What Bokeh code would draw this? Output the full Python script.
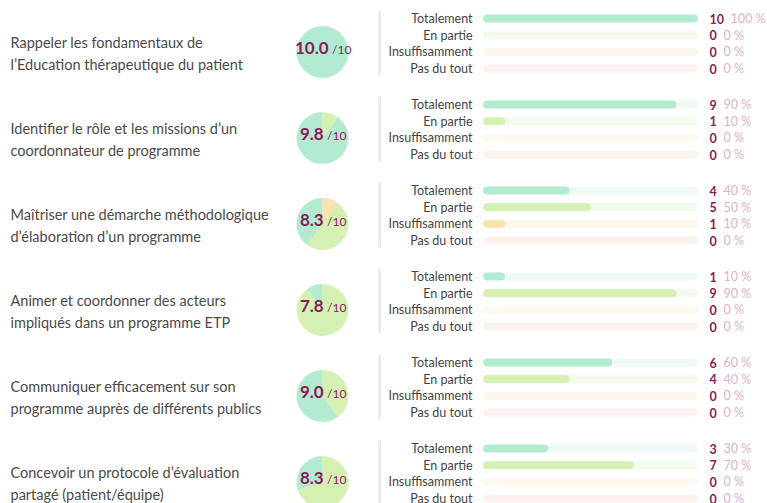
import math
from bokeh.plotting import figure
from bokeh.models import Range1d, ColumnDataSource
from bokeh.core.properties import value
from bokeh.embed import file_html
from bokeh.resources import INLINE

# ---------------- data ----------------
topics = [
    ["Rappeler les fondamentaux de", "l\u2019Education th\u00e9rapeutique du patient"],
    ["Identifier le r\u00f4le et les missions d\u2019un", "coordonnateur de programme"],
    ["Ma\u00eetriser une d\u00e9marche m\u00e9thodologique", "d\u2019\u00e9laboration d\u2019un programme"],
    ["Animer et coordonner des acteurs", "impliqu\u00e9s dans un programme ETP"],
    ["Communiquer efficacement sur son", "programme aupr\u00e8s de diff\u00e9rents publics"],
    ["Concevoir un protocole d\u2019\u00e9valuation", "partag\u00e9 (patient/\u00e9quipe)"],
]
levels = ["Totalement", "En partie", "Insuffisamment", "Pas du tout"]
totalement = [10, 9, 4, 1, 6, 3]
en_partie = [0, 1, 5, 9, 4, 7]
insuffisamment = [0, 0, 1, 0, 0, 0]
pas_du_tout = [0, 0, 0, 0, 0, 0]
scores = [10.0, 9.8, 8.3, 7.8, 9.0, 8.3]
score_max = 10

# ---------------- style ----------------
bar_colors = ["#b3ebd1", "#d4f1b3", "#f8e3ae", "#fbe3d8"]
track_colors = ["#effaf5", "#f3fbed", "#fdf8ee", "#fdf3ee"]
purple = "#8a1c5c"
pink = "#dcb2cc"
label_col = "#4a4a4a"
FONT = value("Lato")

W, H = 767, 503
p = figure(width=W, height=H, output_backend="svg", toolbar_location=None,
           x_range=Range1d(0, W), y_range=Range1d(-H, 0),
           min_border=0, outline_line_color=None)
p.axis.visible = False
p.grid.visible = False
p.background_fill_color = "white"
p.border_fill_color = "white"

ROW0, ROWSTEP = 43, 86
BAR_X0, BAR_LEN = 483, 214
PIE_X, PIE_R = 322, 26
SEP_X = 379

counts_by_level = [totalement, en_partie, insuffisamment, pas_du_tout]

lab = dict(x=[], y=[], t=[])
blab = dict(x=[], y=[], t=[])
track = dict(l=[], r=[], y=[], c=[])
bars = dict(l=[], r=[], y=[], c=[])
cnt = dict(x=[], y=[], t=[])
pct = dict(x=[], y=[], t=[])
wed = dict(x=[], y=[], s=[], e=[], c=[])
sc_main = dict(x=[], y=[], t=[])
sc_small = dict(x=[], y=[], t=[])
sep = dict(x0=[], y0=[], x1=[], y1=[])

def wmain(s):
    return sum(4.4 if ch == "." else 9.9 for ch in s)

for i in range(len(topics)):
    yc = ROW0 + ROWSTEP * i
    lab["x"] += [10, 10]
    lab["y"] += [-(yc - 1.5), -(yc + 20.5)]
    lab["t"] += topics[i]
    sep["x0"].append(SEP_X); sep["x1"].append(SEP_X)
    sep["y0"].append(-(yc - 33)); sep["y1"].append(-(yc + 32))
    vals = [lv[i] for lv in counts_by_level]
    total = sum(vals)
    for k, lvl in enumerate(levels):
        by = yc - 25 + k * (50 / 3)
        blab["x"].append(472); blab["y"].append(-by); blab["t"].append(lvl)
        track["l"].append(BAR_X0); track["r"].append(BAR_X0 + BAR_LEN)
        track["y"].append(-by); track["c"].append(track_colors[k])
        frac = vals[k] / total
        if vals[k] > 0:
            bars["l"].append(BAR_X0); bars["r"].append(BAR_X0 + BAR_LEN * frac)
            bars["y"].append(-by); bars["c"].append(bar_colors[k])
        cs = str(vals[k])
        cnt["x"].append(709); cnt["y"].append(-by); cnt["t"].append(cs)
        pct["x"].append(716 + 7 * len(cs)); pct["y"].append(-by)
        pct["t"].append(f"{round(frac * 100)} %")
    # pie, anticlockwise from 12 o'clock
    a = math.pi / 2
    py = -(yc + 8.5)
    for k in range(4):
        span = 2 * math.pi * vals[k] / total
        while span > 1e-9:
            step = min(span, math.pi)
            wed["x"].append(PIE_X); wed["y"].append(py)
            wed["s"].append(a); wed["e"].append(a + step); wed["c"].append(bar_colors[k])
            a += step
            span -= step
    ms = f"{scores[i]:.1f}"
    small = f"/{score_max}"
    total_w = wmain(ms) + 3 + 18
    x0 = PIE_X - total_w / 2
    sc_main["x"].append(x0); sc_main["y"].append(-(yc + 4.5)); sc_main["t"].append(ms)
    sc_small["x"].append(x0 + wmain(ms) + 3); sc_small["y"].append(-(yc + 6))
    sc_small["t"].append(small)

p.segment(x0="x0", y0="y0", x1="x1", y1="y1", source=ColumnDataSource(sep),
          line_color="#ececec", line_width=3)
p.hbar(y="y", left="l", right="r", height=7, color="c", border_radius=4,
       source=ColumnDataSource(track))
p.hbar(y="y", left="l", right="r", height=7, color="c", border_radius=4,
       source=ColumnDataSource(bars))
p.wedge(x="x", y="y", radius=PIE_R - 0.25, start_angle="s", end_angle="e",
        direction="anticlock", fill_color="c", line_color="c", line_width=0.5,
        source=ColumnDataSource(wed))

p.text(x="x", y="y", text="t", source=ColumnDataSource(lab), text_font=FONT,
       text_font_size="14.5px", text_color=label_col, text_baseline="middle",
       text_align="left")
p.text(x="x", y="y", text="t", source=ColumnDataSource(blab), text_font=FONT,
       text_font_size="12.5px", text_color="#444444", text_baseline="middle",
       text_align="right")
p.text(x="x", y="y", text="t", source=ColumnDataSource(cnt), text_font=FONT,
       text_font_size="12.5px", text_font_style="bold", text_color=purple,
       text_baseline="middle", text_align="left")
p.text(x="x", y="y", text="t", source=ColumnDataSource(pct), text_font=FONT,
       text_font_size="12.5px", text_color=pink, text_baseline="middle",
       text_align="left")
p.text(x="x", y="y", text="t", source=ColumnDataSource(sc_main), text_font=FONT,
       text_font_size="17px", text_font_style="bold", text_color=purple,
       text_baseline="middle", text_align="left")
p.text(x="x", y="y", text="t", source=ColumnDataSource(sc_small), text_font=FONT,
       text_font_size="12px", text_color=purple,
       text_baseline="middle", text_align="left")

open("out.html", "w").write(file_html(p, INLINE))
